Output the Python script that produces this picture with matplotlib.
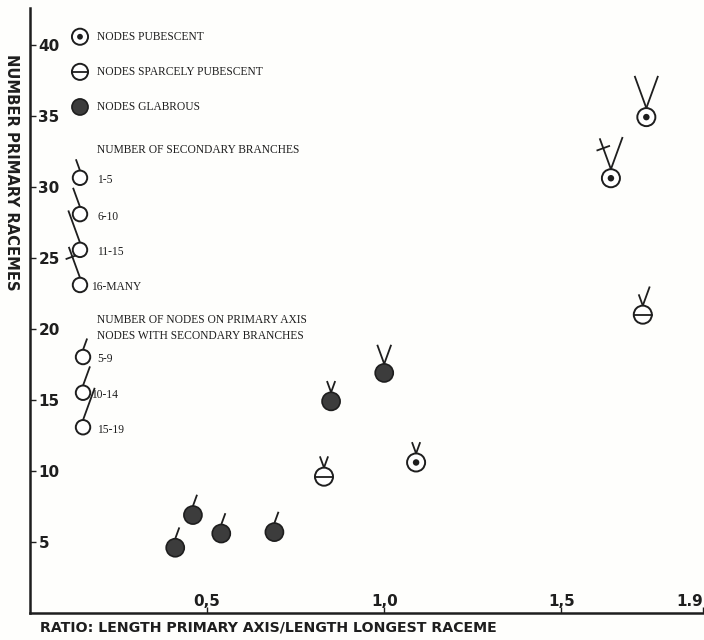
import numpy as np
import matplotlib.pyplot as plt
from matplotlib.patches import Circle
from matplotlib.transforms import Affine2D, ScaledTranslation

# data
ratio = [0.41, 0.46, 0.54, 0.69, 0.85, 1.00, 0.83, 1.09, 1.73, 1.74, 1.64]
racemes = [4.6, 6.9, 5.6, 5.7, 14.9, 16.9, 9.6, 10.6, 21.0, 34.9, 30.6]
hairiness = ["glabrous", "glabrous", "glabrous", "glabrous", "glabrous", "glabrous",
             "sparse", "pubescent", "sparse", "pubescent", "pubescent"]
branch_class = [0, 0, 0, 0, 1, 2, 1, 1, 1, 3, 4]   # secondary branches
node_class = [1, 1, 1, 1, 1, 2, 1, 1, 2, 3, 3]     # nodes with secondary branches

xticks = [0.5, 1.0, 1.5, 1.9]
xticklabels = ["0,5", "1,0", "1,5", "1.9"]
yticks = [5, 10, 15, 20, 25, 30, 35, 40]

branch_labels = ["1-5", "6-10", "11-15", "16-MANY"]
node_labels = ["5-9", "10-14", "15-19"]
hair_labels = {"pubescent": "NODES PUBESCENT",
               "sparse": "NODES SPARCELY PUBESCENT",
               "glabrous": "NODES GLABROUS"}

INK = "#1e1e1e"
FILL = "#3c3c3c"
branch_len = [0, 8, 14, 24, 23]   # points
node_len = [0, 8, 14, 24]
ANG = np.radians(20)

fig = plt.figure(figsize=(7.04, 6.4), dpi=100, facecolor="#fefefc")
ax = fig.add_axes([0.0426, 0.042, 0.956, 0.946])
ax.set_facecolor("#fefefc")
ax.set_xlim(0, 1.9)
ax.set_ylim(0, 42.6)


def glyph(x, y, base, hair=None, branch=0, nodes=0, r=6.5):
    off = Affine2D().scale(1 / 72) + fig.dpi_scale_trans + ScaledTranslation(x, y, base)
    if hair == "glabrous":
        ax.add_patch(Circle((0, 0), r, transform=off, facecolor=FILL, edgecolor=INK,
                            lw=1.2, clip_on=False, zorder=3))
    else:
        ax.add_patch(Circle((0, 0), r, transform=off, facecolor="white", edgecolor=INK,
                            lw=1.4, clip_on=False, zorder=3))
        if hair == "pubescent":
            ax.add_patch(Circle((0, 0), r * 0.36, transform=off, facecolor=INK,
                                edgecolor="none", clip_on=False, zorder=4))
        elif hair == "sparse":
            ax.plot([-r, r], [0, 0], color=INK, lw=1.3, transform=off,
                    clip_on=False, zorder=4)
    if branch:
        L = branch_len[branch]
        ex, ey = -np.sin(ANG) * L, r + np.cos(ANG) * L
        ax.plot([0, ex], [r, ey], color=INK, lw=1.3, transform=off, clip_on=False)
        if branch == 4:
            cx, cy = -np.sin(ANG) * L * 0.7, r + np.cos(ANG) * L * 0.7
            px, py = np.cos(ANG) * 4.5, np.sin(ANG) * 4.5
            ax.plot([cx - px, cx + px], [cy - py, cy + py], color=INK, lw=1.3,
                    transform=off, clip_on=False)
    if nodes:
        L = node_len[nodes]
        ex, ey = np.sin(ANG) * L, r + np.cos(ANG) * L
        ax.plot([0, ex], [r, ey], color=INK, lw=1.3, transform=off, clip_on=False)


for x, y, h, b, n in zip(ratio, racemes, hairiness, branch_class, node_class):
    glyph(x, y, ax.transData, h, b, n)

# key
lfont = dict(family="Liberation Serif", fontsize=8.3, color=INK, va="center",
             transform=ax.transAxes)
hair_y = [0.952, 0.894, 0.836]
for yy, key in zip(hair_y, ["pubescent", "sparse", "glabrous"]):
    glyph(0.0743, yy, ax.transAxes, key, r=5.8)
    ax.text(0.0996, yy, hair_labels[key], **lfont)

ax.text(0.0996, 0.765, "NUMBER OF SECONDARY BRANCHES", **lfont)
branch_y = [0.719, 0.659, 0.600, 0.542]
for i, (yy, lab) in enumerate(zip(branch_y, branch_labels)):
    glyph(0.0743, yy, ax.transAxes, branch=i + 1, r=5.2)
    ax.text(0.0996 if i < 3 else 0.091, yy - 0.004, lab, **lfont)

ax.text(0.0996, 0.484, "NUMBER OF NODES ON PRIMARY AXIS", **lfont)
ax.text(0.0996, 0.457, "NODES WITH SECONDARY BRANCHES", **lfont)
node_y = [0.423, 0.364, 0.307]
for i, (yy, lab) in enumerate(zip(node_y, node_labels)):
    glyph(0.0788, yy, ax.transAxes, nodes=i + 1, r=5.2)
    ax.text(0.0996 if i != 1 else 0.091, yy - 0.004, lab, **lfont)

# axes
for s in ["top", "right"]:
    ax.spines[s].set_visible(False)
for s in ["left", "bottom"]:
    ax.spines[s].set_linewidth(1.8)
    ax.spines[s].set_color(INK)

ax.set_xticks(xticks)
ax.set_xticklabels(xticklabels)
ax.set_yticks(yticks)
tfont = dict(family="DejaVu Sans", weight="bold", size=11)
ax.tick_params(axis="x", direction="in", length=4, width=1, pad=-3, colors=INK)
ax.tick_params(axis="y", direction="in", length=4, width=1, pad=-6, colors=INK)
for t in ax.get_xticklabels():
    t.set_fontproperties(tfont)
    t.set_verticalalignment("bottom")
ax.get_xticklabels()[-1].set_horizontalalignment("right")
for t in ax.get_yticklabels():
    t.set_fontproperties(tfont)
    t.set_horizontalalignment("left")

fig.text(0.017, 0.731, "NUMBER PRIMARY RACEMES", rotation=-90, ha="center", va="center",
         family="DejaVu Sans", weight="bold", fontsize=10.6, color=INK)
fig.text(0.057, 0.019, "RATIO: LENGTH PRIMARY AXIS/LENGTH LONGEST RACEME", ha="left",
         va="center", family="DejaVu Sans", weight="bold", fontsize=10.2, color=INK)

fig.savefig("out.png", dpi=100, facecolor=fig.get_facecolor())
